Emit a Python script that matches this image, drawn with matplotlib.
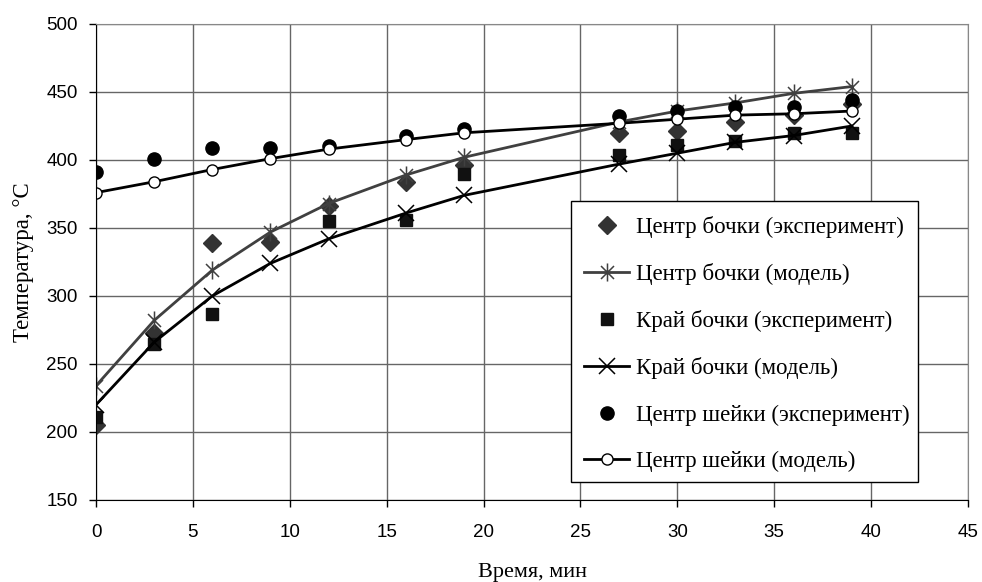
import numpy as np
import matplotlib.pyplot as plt
from matplotlib.path import Path
from matplotlib.patches import Rectangle

# время, мин
t = [0, 3, 6, 9, 12, 16, 19, 27, 30, 33, 36, 39]

# центр бочки
barrel_center_exp = [205, 273, 339, 340, 366, 384, 396, 420, 421, 428, 433, 441]
barrel_center_model = [234, 282, 319, 347, 368, 389, 402, 428, 436, 442, 449, 454]
# край бочки (в 9 мин нет точки)
barrel_edge_exp = [211, 265, 287, np.nan, 355, 356, 390, 404, 411, 414, 420, 420]
barrel_edge_model = [220, 266, 300, 324, 342, 361, 374, 397, 405, 413, 418, 425]
# центр шейки
neck_center_exp = [391, 401, 409, 409, 410, 418, 423, 432, 436, 439, 439, 444]
neck_center_model = [376, 384, 393, 401, 408, 415, 420, 427, 430, 433, 434, 436]

labels = ['Центр бочки (эксперимент)', 'Центр бочки (модель)',
          'Край бочки (эксперимент)', 'Край бочки (модель)',
          'Центр шейки (эксперимент)', 'Центр шейки (модель)']

x_ticks = list(range(0, 46, 5))
y_ticks = list(range(150, 501, 50))

# звездочка как в Excel: вертикаль + косой крест
star = Path([(0, -1), (0, 1), (-0.72, -0.72), (0.72, 0.72), (-0.72, 0.72), (0.72, -0.72)],
            [Path.MOVETO, Path.LINETO, Path.MOVETO, Path.LINETO, Path.MOVETO, Path.LINETO])

fig = plt.figure(figsize=(9.82, 5.82), dpi=100)
ax = fig.add_axes([96 / 982, (582 - 500) / 582, 872 / 982, 476 / 582])

gray = '#404040'
ax.plot(t, barrel_center_exp, ls='none', marker='D', ms=9.5, color='#333333', label=labels[0])
ax.plot(t, barrel_center_model, color=gray, lw=2, marker=star, ms=13, mew=1.1,
        mec=gray, label=labels[1])
ax.plot(t, barrel_edge_exp, ls='none', marker='s', ms=8.5, color='#111111', label=labels[2])
ax.plot(t, barrel_edge_model, color='black', lw=2, marker='x', ms=12, mew=1.1, label=labels[3])
ax.plot(t, neck_center_exp, ls='none', marker='o', ms=9.5, color='black', label=labels[4])
ax.plot(t, neck_center_model, color='black', lw=2, marker='o', ms=8, mfc='white',
        mec='black', mew=1, label=labels[5])

ax.set_xlim(0, 45)
ax.set_ylim(150, 500)
ax.set_xticks(x_ticks)
ax.set_yticks(y_ticks)
ax.grid(True, color='#666666', lw=1)
ax.set_axisbelow(True)
for side in ['top', 'right']:
    ax.spines[side].set_color('#888888')
for side in ['left', 'bottom']:
    ax.spines[side].set_color('black')
ax.tick_params(axis='y', direction='out', length=5, width=1, labelsize=13.5, pad=8)
ax.tick_params(axis='x', direction='out', length=5, width=1, labelsize=13.5, pad=12)
for lab in ax.get_xticklabels() + ax.get_yticklabels():
    lab.set_fontfamily('Liberation Sans')

ax.set_xlabel('Время, мин', family='Liberation Serif', fontsize=16, labelpad=16)
ax.set_ylabel('Температура, °C', family='Liberation Serif', fontsize=16.5, labelpad=9)

# рамка легенды рисуется отдельно, чтобы задать точный размер
box = Rectangle((571 / 982, (582 - 482) / 582), 347 / 982, 281 / 582,
                transform=fig.transFigure, facecolor='white', edgecolor='black',
                lw=1, zorder=4.9, clip_on=False)
ax.add_patch(box)

leg = ax.legend(loc='upper left', bbox_to_anchor=(571 / 982, 1 - 203 / 582),
                bbox_transform=fig.transFigure, borderaxespad=0,
                prop={'family': 'Liberation Serif', 'size': 16.5},
                frameon=False, labelspacing=1.1, handlelength=2.0,
                handletextpad=0.3, borderpad=0.55, numpoints=1)

fig.savefig('out.png', dpi=100)
